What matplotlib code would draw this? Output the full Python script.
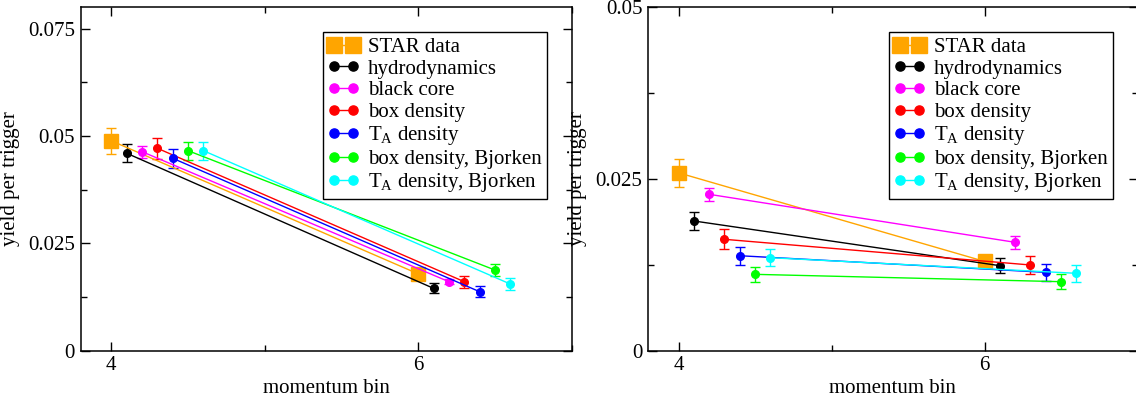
import matplotlib
matplotlib.use('Agg')
from matplotlib import pyplot as plt
from matplotlib.ticker import MultipleLocator, FormatStrFormatter

plt.rcParams['font.family'] = ['Liberation Serif', 'DejaVu Serif']
plt.rcParams['mathtext.fontset'] = 'custom'
plt.rcParams['mathtext.rm'] = 'Liberation Serif'
plt.rcParams['mathtext.it'] = 'Liberation Serif:italic'

# measured data
star_x = [4.0, 6.0]
star_left_y = [0.0489, 0.0179]
star_left_err = [0.0030, 0.0010]
star_right_y = [0.0259, 0.0130]
star_right_err = [0.0020, 0.0008]

model_names = ['hydrodynamics', 'black core', 'box density',
               r'$\mathrm{T}_\mathrm{A}$ density', 'box density, Bjorken',
               r'$\mathrm{T}_\mathrm{A}$ density, Bjorken']
model_colors = ['black', '#ff00ff', '#ff0000', '#0000ff', '#00ff00', '#00ffff']
model_x = [[4.1, 6.1], [4.2, 6.2], [4.3, 6.3], [4.4, 6.4], [4.5, 6.5], [4.6, 6.6]]

left_y = [[0.0460, 0.01453], [0.04637, 0.01608], [0.04716, 0.01608],
          [0.04483, 0.01375], [0.0466, 0.0188], [0.0466, 0.01554]]
left_err = [[0.0021, 0.0012], [0.0014, 0.0006], [0.00245, 0.00144],
            [0.0022, 0.0013], [0.0021, 0.0014], [0.0021, 0.0013]]

right_y = [[0.01889, 0.01238], [0.02277, 0.01578], [0.01622, 0.01248],
           [0.01383, 0.01141], [0.01112, 0.01005], [0.01354, 0.01127]]
right_err = [[0.0013, 0.0011], [0.00097, 0.00092], [0.00146, 0.0013],
             [0.0013, 0.0012], [0.00114, 0.0011], [0.00126, 0.0012]]

FS = 15


def draw_panel(ax, sy, serr, ys, errs, ymax, ymajor):
    ax.errorbar(star_x, sy, yerr=serr, fmt='none', ecolor='#ffa500',
                elinewidth=1, capsize=3.5, capthick=1, zorder=2)
    ax.plot(star_x, sy, '-s', color='#ffa500', lw=1, ms=9.5,
            label='STAR data', zorder=3)
    for name, c, x, y, e in zip(model_names, model_colors, model_x, ys, errs):
        ax.errorbar(x, y, yerr=e, fmt='none', ecolor=c, elinewidth=1,
                    capsize=3.5, capthick=1, zorder=2)
        ax.plot(x, y, '-o', color=c, lw=1, ms=5.5, label=name, zorder=3)

    ax.set_xlim(3.8, 7.0)
    ax.set_ylim(0, ymax)
    ax.xaxis.set_major_locator(MultipleLocator(2))
    ax.xaxis.set_minor_locator(MultipleLocator(1))
    ax.yaxis.set_major_locator(MultipleLocator(ymajor))
    ax.yaxis.set_minor_locator(MultipleLocator(ymajor / 2))
    ax.yaxis.set_major_formatter(FormatStrFormatter('%g'))
    ax.tick_params(which='both', direction='in', top=True, right=True,
                   labelsize=FS, width=1, pad=4)
    ax.tick_params(which='major', length=6.5)
    ax.tick_params(which='minor', length=4)
    for s in ax.spines.values():
        s.set_linewidth(1.1)
    ax.set_xlabel('momentum bin', fontsize=FS, labelpad=3)
    ax.set_ylabel('yield per trigger', fontsize=FS, labelpad=6)
    leg = ax.legend(loc='upper right', fontsize=FS, numpoints=2,
                    fancybox=False, framealpha=1, edgecolor='black',
                    handlelength=1.5, handletextpad=0.4, labelspacing=0.1,
                    borderpad=0.25, borderaxespad=1.2, markerscale=1.2)
    leg.get_frame().set_linewidth(1.0)


def main():
    fig = plt.figure(figsize=(11.36, 4.01), dpi=100)
    ax1 = fig.add_axes([0.0710, 0.1254, 0.4322, 0.8564])
    ax2 = fig.add_axes([0.5704, 0.1254, 0.4310, 0.8564])
    draw_panel(ax1, star_left_y, star_left_err, left_y, left_err, 0.08, 0.025)
    draw_panel(ax2, star_right_y, star_right_err, right_y, right_err, 0.05, 0.025)
    fig.savefig('out.png', dpi=100)


if __name__ == '__main__':
    main()
